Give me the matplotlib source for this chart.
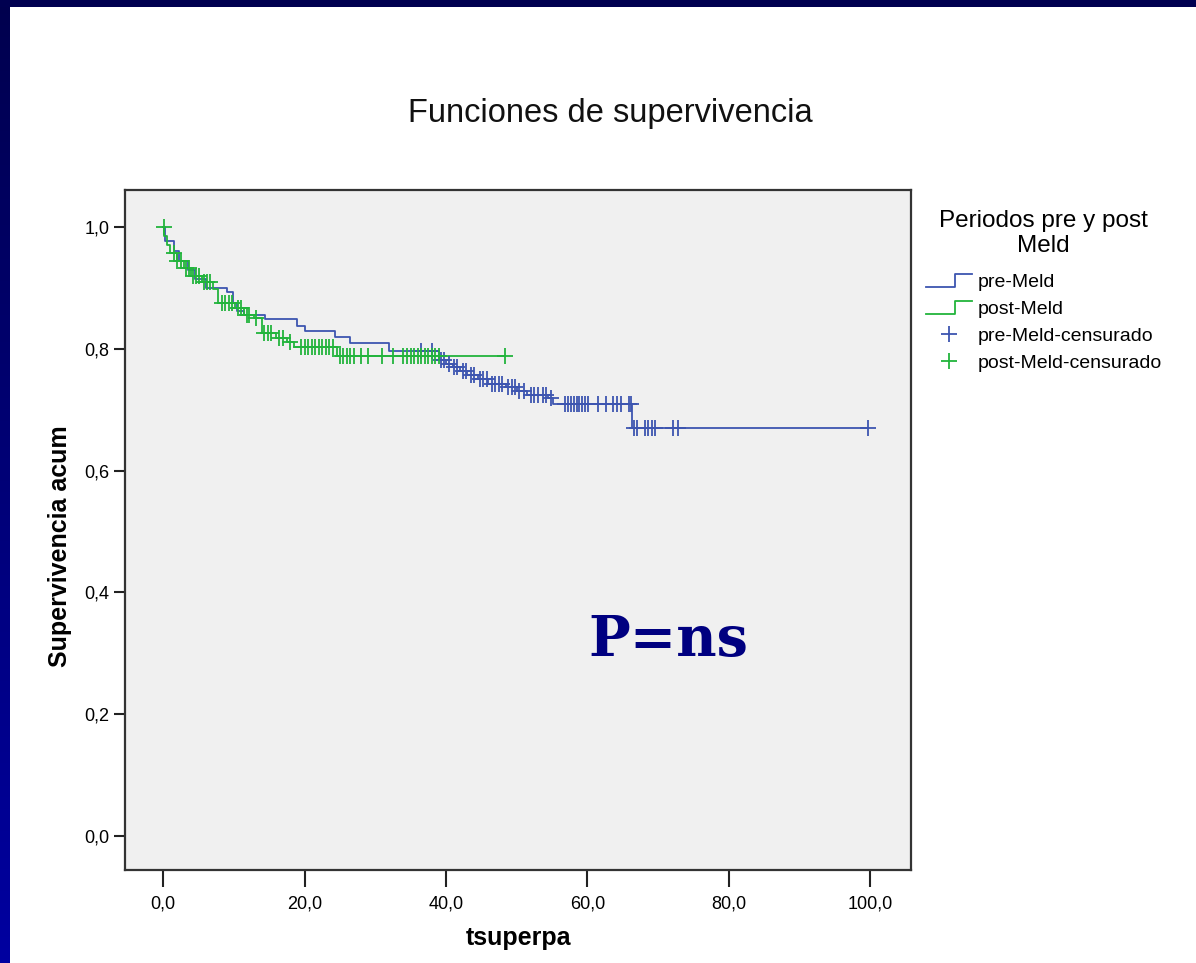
import numpy as np
import matplotlib
matplotlib.use("Agg")
import matplotlib.pyplot as plt
from matplotlib.lines import Line2D
from matplotlib.legend_handler import HandlerBase

# pre-Meld: event times and survival after each step
pre_t = [0.0, 0.2, 1.5, 2.2, 3.5, 4.5, 6.0, 9.0, 9.9, 10.5, 11.5, 14.4, 19.0, 20.0,
         24.3, 26.5, 32.0, 39.0, 40.0, 41.0, 42.0, 43.0, 44.5, 46.0, 48.5, 50.0,
         51.5, 54.5, 55.2, 66.3]
pre_s = [1.0, 0.978, 0.96, 0.945, 0.93, 0.915, 0.90, 0.893, 0.875, 0.862, 0.855,
         0.849, 0.838, 0.829, 0.819, 0.81, 0.797, 0.782, 0.776, 0.770, 0.763, 0.757,
         0.750, 0.743, 0.737, 0.731, 0.725, 0.719, 0.709, 0.67]
pre_cens = [36.5, 38.0, 39.3, 39.8, 40.5, 41.2, 41.6, 42.4, 42.8, 43.5, 44.0, 44.8,
            45.3, 45.8, 46.5, 47.0, 47.5, 48.0, 48.8, 49.3, 49.8, 50.3, 51.0, 52.0,
            52.5, 53.0, 53.8, 54.2, 54.8, 56.9, 57.3, 57.7, 58.1, 58.5, 58.9, 59.3,
            59.7, 60.1, 61.5, 62.6, 63.6, 64.2, 64.8, 65.9, 66.2, 66.6, 67.1, 68.2,
            68.6, 69.1, 69.6, 72.1, 72.8, 99.7]

# post-Meld
post_t = [0.0, 0.1, 0.5, 1.0, 2.0, 3.0, 4.0, 5.5, 7.0, 7.8, 10.2, 11.5, 12.8, 14.0,
          16.0, 17.5, 18.5, 24.6]
post_s = [1.0, 0.985, 0.97, 0.957, 0.945, 0.933, 0.92, 0.91, 0.898, 0.876, 0.867,
          0.856, 0.85, 0.826, 0.818, 0.811, 0.803, 0.788]
post_cens = [0.05, 1.5, 2.0, 2.5, 3.2, 3.6, 4.2, 4.6, 5.0, 5.8, 6.2, 6.6, 8.3, 8.8,
             9.3, 9.8, 10.6, 11.0, 11.8, 12.2, 13.2, 14.3, 14.8, 15.3, 16.4, 17.0,
             18.0, 19.5, 20.0, 20.5, 21.0, 21.5, 22.0, 22.5, 23.0, 23.5, 24.0, 25.0,
             25.5, 26.0, 26.5, 27.0, 28.0, 29.0, 31.0, 32.5, 34.0, 34.5, 35.0, 35.5,
             36.0, 36.5, 37.0, 37.5, 38.0, 38.5, 39.0, 48.4]

blue = "#3d55b0"
green = "#22b43c"


def step_value(ts, ss, x):
    idx = np.searchsorted(ts, x, side="right") - 1
    return np.array(ss)[idx]


class StepHandler(HandlerBase):
    def create_artists(self, legend, orig, xd, yd, w, h, fontsize, trans):
        xs = [xd, xd + w * 0.62, xd + w * 0.62, xd + w]
        ys = [yd + h * 0.05, yd + h * 0.05, yd + h * 0.95, yd + h * 0.95]
        ln = Line2D(xs, ys, color=orig.get_color(), lw=1.3, transform=trans)
        return [ln]


fig = plt.figure(figsize=(11.96, 9.63), dpi=100)
fig.patch.set_facecolor("white")

# slide border
bg = fig.add_axes([0, 0, 10 / 1196, 1])
grad = np.linspace(0, 1, 256).reshape(-1, 1)
cmap = matplotlib.colors.LinearSegmentedColormap.from_list("b", ["#00004e", "#0000a0"])
bg.imshow(grad, aspect="auto", cmap=cmap, extent=[0, 1, 1, 0])
bg.axis("off")
top = fig.add_axes([0, 1 - 7 / 963, 1, 7 / 963])
top.set_facecolor("#000050")
top.set_xticks([]); top.set_yticks([])
for s in top.spines.values():
    s.set_visible(False)

ax = fig.add_axes([125 / 1196, 1 - 870 / 963, 786 / 1196, 680 / 963])
ax.set_facecolor("#f0f0f0")

pt = pre_t + [pre_cens[-1]]
ps = pre_s + [pre_s[-1]]
qt = post_t + [post_cens[-1]]
qs = post_s + [post_s[-1]]
l1, = ax.step(pt, ps, where="post", color=blue, lw=1.3, label="pre-Meld")
l2, = ax.step(qt, qs, where="post", color=green, lw=1.3, label="post-Meld")
m1, = ax.plot(pre_cens, step_value(pre_t, pre_s, pre_cens), ls="none", marker="+",
              ms=11, mew=1.3, color=blue, label="pre-Meld-censurado")
m2, = ax.plot(post_cens, step_value(post_t, post_s, post_cens), ls="none", marker="+",
              ms=11, mew=1.3, color=green, label="post-Meld-censurado")

ax.set_xlim(-5.4, 105.8)
ax.set_ylim(-0.056, 1.061)
ax.set_xticks([0, 20, 40, 60, 80, 100])
ax.set_xticklabels(["0,0", "20,0", "40,0", "60,0", "80,0", "100,0"])
ax.set_yticks([0, 0.2, 0.4, 0.6, 0.8, 1.0])
ax.set_yticklabels(["0,0", "0,2", "0,4", "0,6", "0,8", "1,0"])
ax.tick_params(axis="x", length=12, width=1.5, labelsize=13, pad=6, colors="#222222")
ax.tick_params(axis="y", length=8, width=1.5, labelsize=13, pad=3, colors="#222222")
for s in ax.spines.values():
    s.set_color("#333333")
    s.set_linewidth(1.6)

font = "Liberation Sans"
for lab in ax.get_xticklabels() + ax.get_yticklabels():
    lab.set_family(font)
    lab.set_color("black")
ax.set_xlabel("tsuperpa", fontsize=18, fontweight="bold", family=font, labelpad=10)
ax.set_ylabel("Supervivencia acum", fontsize=18, fontweight="bold", family=font)
ax.yaxis.set_label_coords(-0.067, 0.476)
fig.text(610 / 1196, 1 - 113 / 963, "Funciones de supervivencia", ha="center", va="center",
         fontsize=23.5, family=font, color="#111111")

ax.text(0.691, 0.337, "P=ns", transform=ax.transAxes, ha="center", va="center",
        fontsize=40, fontweight="bold", family="DejaVu Serif", color="#000080")

leg = ax.legend(handles=[l1, l2, m1, m2],
                handler_map={l1: StepHandler(), l2: StepHandler()},
                title="Periodos pre y post\nMeld", loc="upper left",
                bbox_to_anchor=(916 / 1196, 1 - 200 / 963), bbox_transform=fig.transFigure,
                frameon=False, prop={"family": font, "size": 14},
                title_fontproperties={"family": font, "size": 17.5},
                handlelength=2.4, handletextpad=0.25, labelspacing=0.48, borderpad=0)
leg._legend_box.align = "center"
leg.get_title().set_multialignment("center")
leg._legend_box.sep = 12

fig.savefig("out.png", dpi=100)
